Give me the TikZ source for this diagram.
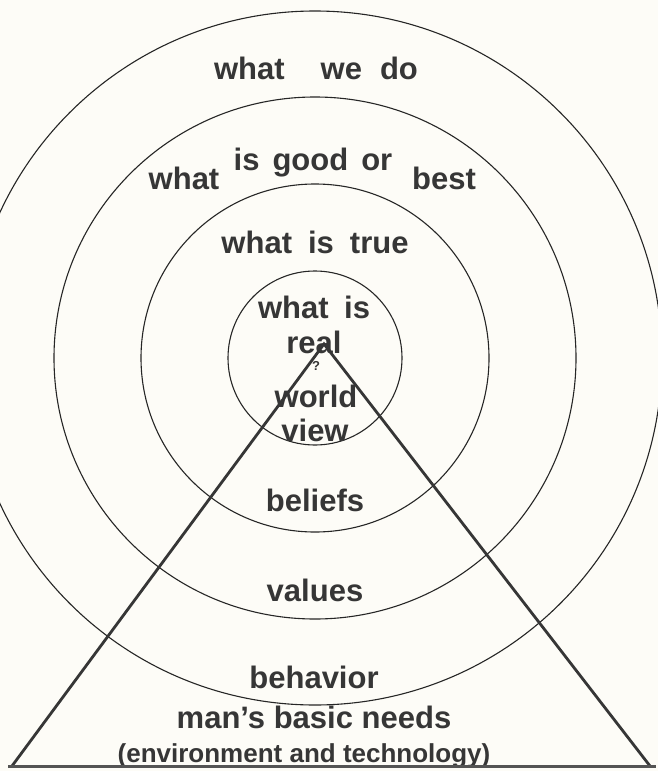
\documentclass[tikz,border=0pt]{standalone}
\usepackage{fontspec}
\setmainfont{Liberation Sans}
\definecolor{paper}{HTML}{FDFCF7}
\definecolor{ink}{HTML}{363636}
\begin{document}
\begin{tikzpicture}[x=1pt,y=-1pt,
  lbl/.style={font=\bfseries\fontsize{31}{31}\selectfont, text=ink, inner sep=0pt, anchor=base},
  small/.style={font=\bfseries\fontsize{26}{26}\selectfont, text=ink, inner sep=0pt, anchor=base},
  ring/.style={draw=black!85, line width=1.1pt},
  side/.style={draw=ink, line width=2.8pt, line cap=round},
  ground/.style={draw=ink!85, line width=3pt}]
% page and clipping
\fill[paper] (0,0) rectangle (658,771);
\useasboundingbox (0,0) rectangle (658,771);
\clip (0,0) rectangle (658,771);

% common centre of the rings
\coordinate (ctr) at (315,358);

% four concentric rings
\draw[ring] (ctr) circle[radius=87pt];
\draw[ring] (ctr) circle[radius=174pt];
\draw[ring] (ctr) circle[radius=261pt];
\draw[ring] (ctr) circle[radius=347pt];

% labels, from the outside in
\node[lbl] (do)    at (316,79)  {what\hspace{36pt}we\hspace{18pt}do};
\node[lbl] (what)  at (184,189) {what};
\node[lbl] (good)  at (313,170) {is\hspace{13pt}good\hspace{13pt}or};
\node[lbl] (best)  at (444,189) {best};
\node[lbl] (true)  at (315,253) {what\hspace{16pt}is\hspace{16pt}true};
\node[lbl] (whatis) at (314,318) {what\hspace{15.5pt}is};
\node[lbl] (real)  at (314,353) {real};
\node[font=\bfseries\fontsize{13}{13}\selectfont, text=ink, inner sep=0pt] (q) at (316,366) {?};
\node[lbl] (world) at (316,407) {world};
\node[lbl] (view)  at (315,441) {view};
\node[lbl] (bel)   at (315,511) {beliefs};
\node[lbl] (val)   at (315,601) {values};
\node[lbl] (beh)   at (314,688) {behavior};
\node[lbl] (needs) at (314,728) {man’s basic needs};
\node[small] (env) at (304,762) {(environment and technology)};

% triangle of needs
\coordinate (apex) at (324,344);
\coordinate (bl) at (12,766);
\coordinate (br) at (650,766);
\coordinate (gl) at (8,766);
\coordinate (gr) at (656,766);
\draw[side] (bl) -- (apex) -- (br);
\draw[ground] (gl) -- (gr);
\end{tikzpicture}
\end{document}
